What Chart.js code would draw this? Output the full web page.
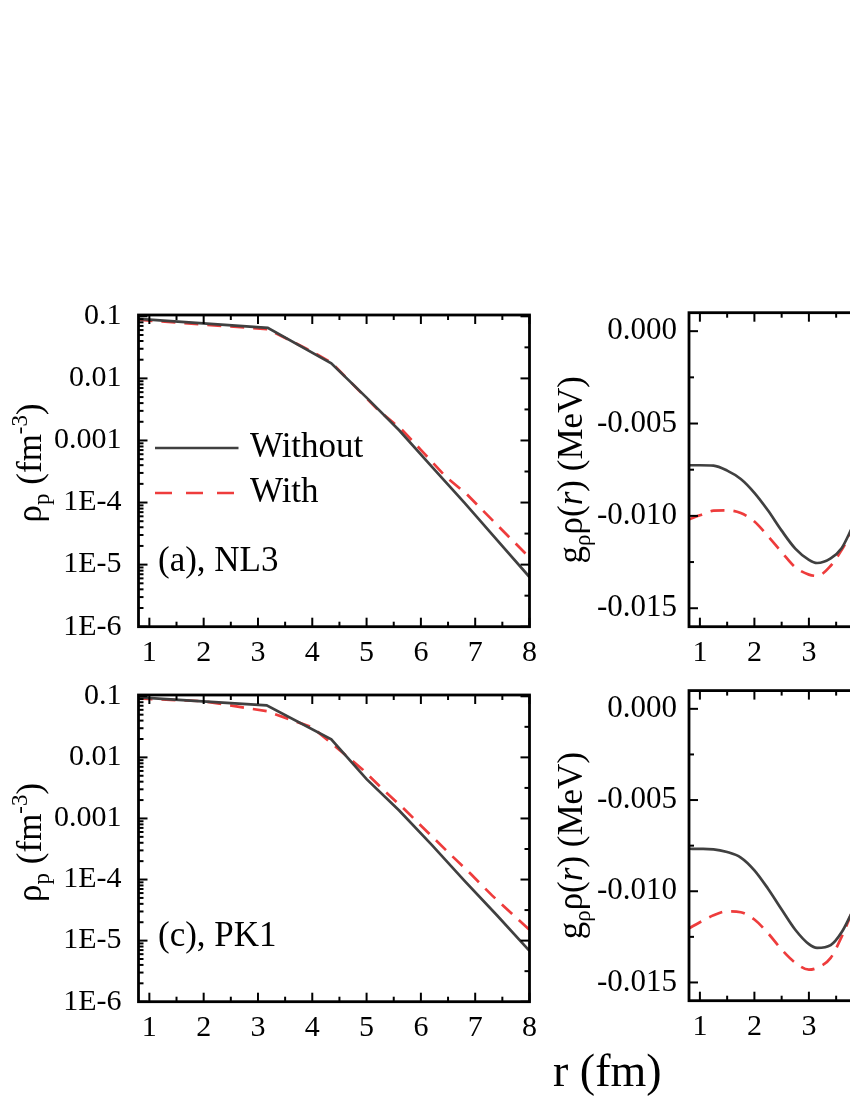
<!DOCTYPE html>
<html>
<head>
<meta charset="utf-8">
<title>rho_p and g_rho rho(r)</title>
<script src="https://cdn.jsdelivr.net/npm/chart.js@4.4.1/dist/chart.umd.min.js"></script>
<style>
  html, body { margin: 0; padding: 0; width: 850px; height: 1100px; overflow: hidden; background: #fff; }
  #wrap { position: relative; width: 850px; height: 1100px; overflow: hidden; }
  canvas { position: absolute; }
</style>
</head>
<body>
<div id="wrap">
  <canvas id="chartA" width="545" height="400" style="left:0;top:280px"></canvas>
  <canvas id="chartC" width="545" height="400" style="left:0;top:660px"></canvas>
  <canvas id="chartB" width="555" height="400" style="left:545px;top:280px"></canvas>
  <canvas id="chartD" width="555" height="440" style="left:545px;top:660px"></canvas>
</div>
<script>
// Densidade de protons (escala log), paineis (a) NL3 e (c) PK1
const rA_without = [0.8, 3.18, 4.35, 5.0, 5.6, 6.2, 6.8, 7.4, 8.0];
const rhoA_without = [0.091, 0.065, 0.0175, 0.0049, 0.00146, 3.8e-4, 1.0e-4, 2.5e-5, 6.3e-6];
const rA_with = [0.8, 3.18, 4.0, 4.35, 4.8, 5.23, 5.66, 6.06, 6.46, 6.85, 7.28, 8.0];
const rhoA_with = [0.088, 0.062, 0.027, 0.018, 0.0072, 0.0030, 0.00146, 6.2e-4, 2.6e-4, 1.35e-4, 5.6e-5, 1.3e-5];

const rC_without = [0.8, 3.16, 4.35, 5.0, 5.6, 6.2, 6.8, 7.4, 8.0];
const rhoC_without = [0.096, 0.071, 0.0197, 0.0044, 0.00135, 3.7e-4, 9.6e-5, 2.6e-5, 6.8e-6];
const rC_with = [0.8, 2.0, 3.16, 4.0, 4.5, 4.93, 5.3, 5.72, 6.12, 6.52, 6.92, 7.31, 8.0];
const rhoC_with = [0.092, 0.083, 0.057, 0.031, 0.0132, 0.0063, 0.0030, 0.00135, 6.0e-4, 2.7e-4, 1.23e-4, 5.5e-5, 1.5e-5];

// Campo g_rho rho(r), paineis (b) NL3 e (d) PK1
const rRight = [0.8, 1.0, 1.25, 1.5, 1.75, 2.0, 2.25, 2.5, 2.75, 3.0, 3.15, 3.4, 3.6, 3.8, 4.0, 4.5, 5.0, 5.5, 6.0, 7.0, 8.0];
const gB_without = [-0.00726, -0.00726, -0.00728, -0.00755, -0.00800, -0.00875, -0.00971, -0.01080, -0.01177, -0.01238, -0.01255, -0.01230, -0.01175, -0.01060, -0.00950, -0.00640, -0.00390, -0.00220, -0.00120, -0.00030, -0.00010];
const gB_with = [-0.01019, -0.00997, -0.00972, -0.00970, -0.00985, -0.01030, -0.01110, -0.01196, -0.01278, -0.01318, -0.01325, -0.01270, -0.01185, -0.01080, -0.00990, -0.00690, -0.00440, -0.00260, -0.00150, -0.00050, -0.00020];
const gD_without = [-0.00767, -0.00768, -0.00770, -0.00785, -0.00815, -0.00885, -0.00986, -0.01100, -0.01211, -0.01290, -0.01310, -0.01295, -0.01225, -0.01110, -0.01000, -0.00660, -0.00410, -0.00240, -0.00130, -0.00040, -0.00010];
const gD_with = [-0.01203, -0.01170, -0.01132, -0.01110, -0.01115, -0.01155, -0.01230, -0.01320, -0.01392, -0.01430, -0.01420, -0.01365, -0.01250, -0.01110, -0.00990, -0.00720, -0.00470, -0.00280, -0.00160, -0.00060, -0.00020];

// Eixos
const xTickValues = [1, 2, 3, 4, 5, 6, 7, 8];
const xTickLabels = ['1', '2', '3', '4', '5', '6', '7', '8'];
const xMinorValues = [1.5, 2.5, 3.5, 4.5, 5.5, 6.5, 7.5];
const logTickValues = [1e-6, 1e-5, 1e-4, 1e-3, 1e-2, 1e-1];
const logTickLabels = ['1E-6', '1E-5', '1E-4', '0.001', '0.01', '0.1'];
const linTickValues = [-0.015, -0.010, -0.005, 0.000];
const linTickLabels = ['-0.015', '-0.010', '-0.005', '0.000'];
const linMinorValues = [-0.0125, -0.0075, -0.0025];

const FONT = "'Liberation Serif', 'Times New Roman', serif";
const BLACK = '#404040';
const RED = '#ee3c3c';
Chart.defaults.font.family = FONT;
Chart.defaults.color = '#000';

function pts(xs, ys) {
  return xs.map((x, i) => ({ x: x, y: ys[i] }));
}

// minor ticks do eixo log: 2..9 x 10^n
const logMinor = [];
logTickValues.forEach(d => { for (let k = 2; k <= 9; k++) if (d * k <= 0.105) logMinor.push(d * k); });
const logHalf = logTickValues.slice(0, 5).map(d => d * Math.sqrt(10));

// texto com sub/sobrescrito
function drawRich(ctx, parts, cx, cy, size, rotate) {
  ctx.save();
  ctx.translate(cx, cy);
  if (rotate) ctx.rotate(-Math.PI / 2);
  ctx.textBaseline = 'alphabetic';
  ctx.textAlign = 'left';
  ctx.fillStyle = '#000';
  const small = Math.round(size * 0.65);
  const fontOf = p => (p.italic ? 'italic ' : '') + (p.sub || p.sup ? small : size) + 'px ' + FONT;
  const widths = parts.map(p => { ctx.font = fontOf(p); return ctx.measureText(p.t).width; });
  let x = -widths.reduce((s, w) => s + w, 0) / 2;
  parts.forEach((p, i) => {
    ctx.font = fontOf(p);
    const dy = p.sub ? size * 0.22 : (p.sup ? -size * 0.4 : 0);
    ctx.fillText(p.t, x, size * 0.255 + dy);
    x += widths[i];
  });
  ctx.restore();
}

const rhoTitle = [{ t: 'ρ' }, { t: 'p', sub: true }, { t: ' (fm' }, { t: '-3', sup: true }, { t: ')' }];
const gTitle = [{ t: 'g' }, { t: 'ρ', sub: true }, { t: 'ρ(' }, { t: 'r', italic: true }, { t: ') (MeV)' }];

function decor(spec) {
  return {
    id: 'decor',
    afterDatasetsDraw(chart) {
      const { ctx, chartArea: a, scales: { x, y } } = chart;
      ctx.save();
      ctx.strokeStyle = '#000';
      ctx.lineWidth = 2;
      const seg = (x1, y1, x2, y2) => { ctx.beginPath(); ctx.moveTo(x1, y1); ctx.lineTo(x2, y2); ctx.stroke(); };
      xTickValues.forEach(v => { const p = x.getPixelForValue(v); seg(p, a.bottom, p, a.bottom - 9); seg(p, a.top, p, a.top + 9); });
      xMinorValues.forEach(v => { const p = x.getPixelForValue(v); seg(p, a.bottom, p, a.bottom - 5); seg(p, a.top, p, a.top + 5); });
      spec.yMajor.forEach(v => { const p = y.getPixelForValue(v); seg(a.left, p, a.left + 9, p); seg(a.right, p, a.right - 9, p); });
      spec.yMinor.forEach(v => { const p = y.getPixelForValue(v); seg(a.left, p, a.left + 5, p); });
      spec.yMinorRight.forEach(v => { const p = y.getPixelForValue(v); seg(a.right, p, a.right - 5, p); });
      ctx.lineWidth = 2.8;
      ctx.strokeRect(a.left, a.top, a.right - a.left, a.bottom - a.top);

      // titulo do eixo y
      drawRich(ctx, spec.title, a.left - spec.titleDx, (a.top + a.bottom) / 2 + spec.titleDy, 35, true);

      ctx.fillStyle = '#000';
      ctx.textAlign = 'left';
      ctx.textBaseline = 'middle';
      if (spec.tag) {
        ctx.font = '35px ' + FONT;
        ctx.fillText(spec.tag, a.left + 19.5, a.top + spec.tagDy);
      }
      if (spec.legend) {
        chart.data.datasets.forEach((ds, i) => {
          const ly = a.top + 133 + i * 45;
          ctx.save();
          ctx.strokeStyle = ds.borderColor;
          ctx.lineWidth = 2.6;
          ctx.setLineDash(ds.borderDash ? [17, 14] : []);
          seg(a.left + 16.5, ly, a.left + 100, ly);
          ctx.restore();
          ctx.font = '35px ' + FONT;
          ctx.fillText(ds.label, a.left + 111.5, ly);
        });
      }
      if (spec.xTitle) {
        ctx.font = '46px ' + FONT;
        ctx.fillText(spec.xTitle, a.left - 136, a.bottom + 73);
      }
      ctx.restore();
    }
  };
}

function makeChart(id, area, yScale, datasets, spec) {
  const cv = document.getElementById(id);
  const W = cv.width, H = cv.height;
  return new Chart(cv, {
    type: 'line',
    data: { datasets: datasets },
    options: {
      responsive: false,
      animation: false,
      layout: { padding: { top: area.t, right: W - area.r, left: 0, bottom: 0 } },
      elements: { point: { radius: 0 } },
      plugins: { legend: { display: false }, tooltip: { enabled: false } },
      scales: {
        x: {
          type: 'linear', min: 0.8, max: 8.0,
          grid: { display: false, drawTicks: false },
          border: { display: false },
          afterBuildTicks: s => { s.ticks = xTickValues.map(v => ({ value: v })); },
          afterFit: s => { s.height = H - area.b; },
          ticks: { autoSkip: false, maxRotation: 0, padding: 8, font: { size: 30 }, callback: (v, i) => xTickLabels[i] }
        },
        y: Object.assign({
          grid: { display: false, drawTicks: false },
          border: { display: false },
          afterFit: s => { s.width = area.l; }
        }, yScale)
      }
    },
    plugins: [decor(spec)]
  });
}

function lineSet(label, data, dashed, smooth) {
  return {
    label: label,
    data: data,
    borderColor: dashed ? RED : BLACK,
    borderWidth: 2.7,
    borderDash: dashed ? [14, 9] : undefined,
    tension: 0,
    cubicInterpolationMode: smooth ? 'monotone' : 'default',
    fill: false
  };
}

const logY = {
  type: 'logarithmic', min: 1e-6, max: 0.105,
  afterBuildTicks: s => { s.ticks = logTickValues.map(v => ({ value: v })); },
  ticks: { autoSkip: false, padding: 17, font: { size: 30 }, callback: (v, i) => logTickLabels[i] }
};
const linY = {
  type: 'linear', min: -0.016, max: 0.001,
  afterBuildTicks: s => { s.ticks = linTickValues.map(v => ({ value: v })); },
  ticks: { autoSkip: false, padding: 12, font: { size: 31 }, callback: (v, i) => linTickLabels[i] }
};

makeChart('chartA', { l: 138.5, t: 32, r: 530.7, b: 346.7 }, logY, [
  lineSet('Without', pts(rA_without, rhoA_without), false, false),
  lineSet('With', pts(rA_with, rhoA_with), true, false)
], { yMajor: logTickValues, yMinor: logMinor, yMinorRight: logHalf, title: rhoTitle, titleDx: 106.5, titleDy: -8,
     tag: '(a), NL3', tagDy: 247, legend: true });

makeChart('chartC', { l: 138.5, t: 28.3, r: 530.7, b: 341.7 }, logY, [
  lineSet('Without', pts(rC_without, rhoC_without), false, false),
  lineSet('With', pts(rC_with, rhoC_with), true, false)
], { yMajor: logTickValues, yMinor: logMinor, yMinorRight: logHalf, title: rhoTitle, titleDx: 106.5, titleDy: -6,
     tag: '(c), PK1', tagDy: 242 });

makeChart('chartB', { l: 144, t: 32.7, r: 536.4, b: 346.7 }, linY, [
  lineSet('Without', pts(rRight, gB_without), false, true),
  lineSet('With', pts(rRight, gB_with), true, true)
], { yMajor: linTickValues, yMinor: linMinorValues, yMinorRight: linMinorValues, title: gTitle, titleDx: 116, titleDy: 0 });

makeChart('chartD', { l: 144, t: 26, r: 536.4, b: 340.7 }, linY, [
  lineSet('Without', pts(rRight, gD_without), false, true),
  lineSet('With', pts(rRight, gD_with), true, true)
], { yMajor: linTickValues, yMinor: linMinorValues, yMinorRight: linMinorValues, title: gTitle, titleDx: 116, titleDy: 0,
     xTitle: 'r (fm)' });
</script>
</body>
</html>
